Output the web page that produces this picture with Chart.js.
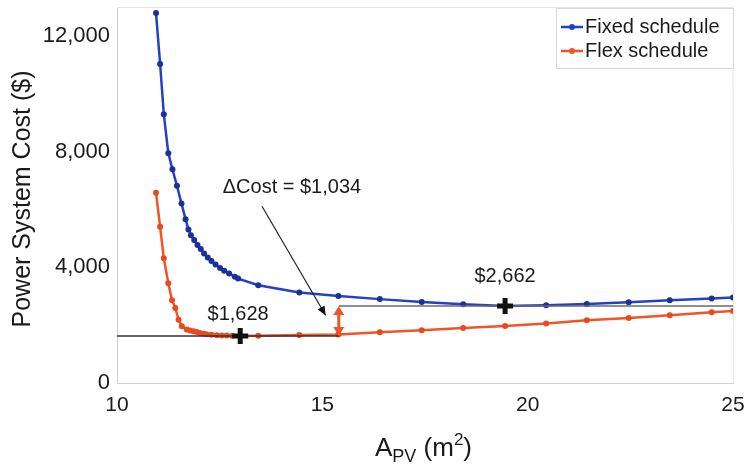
<!DOCTYPE html>
<html>
<head>
<meta charset="utf-8">
<script src="https://cdn.jsdelivr.net/npm/chart.js@4.4.0/dist/chart.umd.min.js"></script>
<style>
    html, body { margin: 0; padding: 0; background: #fff; }
    #wrap { width: 746px; height: 464px; }
</style>
</head>
<body>
<div id="wrap"><canvas id="costChart" width="746" height="464"></canvas></div>
<script>
// PV area (m²) vs. power system cost ($) for both schedules
const fixedArea = [10.95, 11.05, 11.14, 11.25, 11.35, 11.46, 11.57, 11.67, 11.74, 11.80, 11.88, 11.96, 12.04, 12.12, 12.21, 12.30, 12.40, 12.51, 12.61, 12.73, 12.87, 12.95, 13.44, 14.44, 15.39, 16.40, 17.42, 18.43, 19.45, 20.45, 21.44, 22.46, 23.46, 24.48, 25.0];
const fixedCost = [12790, 11030, 9290, 7940, 7390, 6820, 6210, 5660, 5310, 5110, 4940, 4770, 4630, 4480, 4340, 4220, 4100, 3980, 3880, 3790, 3670, 3610, 3380, 3130, 3010, 2900, 2800, 2720, 2662, 2690, 2735, 2795, 2865, 2920, 2960];

const flexArea = [10.95, 11.05, 11.14, 11.25, 11.34, 11.42, 11.50, 11.58, 11.70, 11.78, 11.86, 11.94, 12.02, 12.10, 12.18, 12.30, 12.43, 12.55, 12.67, 12.80, 13.0, 13.44, 14.44, 15.39, 16.40, 17.42, 18.43, 19.45, 20.45, 21.44, 22.46, 23.46, 24.48, 25.0];
const flexCost = [6580, 5400, 4310, 3450, 2860, 2590, 2190, 1960, 1850, 1815, 1790, 1760, 1730, 1705, 1686, 1665, 1651, 1645, 1640, 1633, 1628, 1634, 1660, 1680, 1755, 1825, 1905, 1975, 2055, 2170, 2250, 2345, 2450, 2490];

const xTicks = [10, 15, 20, 25];
const yTicks = [0, 4000, 8000, 12000];

// optimum of each schedule and the area where the saving is measured
const flexMinArea = 13.0;
const flexMinCost = 1628;
const fixedMinArea = 19.45;
const fixedMinCost = 2662;
const deltaArea = 15.4;
const deltaCost = fixedMinCost - flexMinCost;

// ΔCost label and its pointer (data coordinates)
const deltaLabelAt = [14.26, 6760];
const pointerFrom = [13.53, 6110];
const pointerTo = [15.08, 2340];
const flexLabelAt = [12.95, 2380];
const fixedLabelAt = [19.45, 3700];

const FONT = '"Liberation Sans", Arial, Helvetica, sans-serif';
Chart.defaults.font.family = FONT;

const BLUE = '#2341c2';
const ORANGE = '#f05428';

const xy = (xs, ys) => xs.map((v, i) => ({ x: v, y: ys[i] }));

function fmtMoney(v) {
    return '$' + v.toLocaleString('en-US');
}

function arrowHead(ctx, tipX, tipY, fromX, fromY, len, half) {
    const a = Math.atan2(tipY - fromY, tipX - fromX);
    ctx.beginPath();
    ctx.moveTo(tipX, tipY);
    ctx.lineTo(tipX - len * Math.cos(a) + half * Math.sin(a), tipY - len * Math.sin(a) - half * Math.cos(a));
    ctx.lineTo(tipX - len * Math.cos(a) - half * Math.sin(a), tipY - len * Math.sin(a) + half * Math.cos(a));
    ctx.closePath();
    ctx.fill();
}

const overlay = {
    id: 'overlay',
    beforeDatasetsDraw(chart) {
        const { ctx, chartArea: a } = chart;
        // faint box around the axes
        ctx.save();
        ctx.strokeStyle = '#e4e4e4';
        ctx.lineWidth = 1;
        ctx.beginPath();
        ctx.moveTo(a.left, a.top + 0.5);
        ctx.lineTo(a.right, a.top + 0.5);
        ctx.lineTo(a.right + 0.5, a.bottom);
        ctx.stroke();
        ctx.restore();
    },
    afterDatasetsDraw(chart) {
        const { ctx, scales: { x, y } } = chart;
        const px = p => [x.getPixelForValue(p[0]), y.getPixelForValue(p[1])];
        ctx.save();

        // arrowheads on the saving bar
        const ax = x.getPixelForValue(deltaArea);
        const yTop = y.getPixelForValue(fixedMinCost);
        const yBot = y.getPixelForValue(flexMinCost);
        ctx.fillStyle = ORANGE;
        arrowHead(ctx, ax, yTop, ax, yBot, 9, 5.5);
        arrowHead(ctx, ax, yBot, ax, yTop, 9, 5.5);

        // pointer from the ΔCost label
        const [fx, fy] = px(pointerFrom);
        const [tx, ty] = px(pointerTo);
        ctx.strokeStyle = '#222';
        ctx.fillStyle = '#111';
        ctx.lineWidth = 1.2;
        ctx.beginPath();
        ctx.moveTo(fx, fy);
        ctx.lineTo(tx, ty);
        ctx.stroke();
        arrowHead(ctx, tx, ty, fx, fy, 9, 4);

        // text labels
        ctx.fillStyle = '#1a1a1a';
        ctx.font = '20px ' + FONT;
        ctx.textAlign = 'center';
        ctx.textBaseline = 'middle';
        let p = px(deltaLabelAt);
        ctx.fillText('\u0394Cost = ' + fmtMoney(deltaCost), p[0], p[1]);
        p = px(flexLabelAt);
        ctx.fillText(fmtMoney(flexMinCost), p[0], p[1]);
        p = px(fixedLabelAt);
        ctx.fillText(fmtMoney(fixedMinCost), p[0], p[1]);
        ctx.restore();
    },
    afterDraw(chart) {
        const { ctx } = chart;
        ctx.save();

        // y axis title
        ctx.fillStyle = '#1a1a1a';
        ctx.font = '25px ' + FONT;
        ctx.textAlign = 'center';
        ctx.textBaseline = 'middle';
        ctx.translate(23, 199);
        ctx.rotate(-Math.PI / 2);
        ctx.fillText('Power System Cost ($)', 0, 0);
        ctx.restore();

        // x axis title: A_PV (m^2)
        ctx.save();
        ctx.fillStyle = '#1a1a1a';
        ctx.textBaseline = 'alphabetic';
        ctx.textAlign = 'left';
        let cx = 375;
        const base = 456;
        ctx.font = '26px ' + FONT;
        ctx.fillText('A', cx, base);
        cx += ctx.measureText('A').width;
        ctx.font = '18px ' + FONT;
        ctx.fillText('PV', cx, base + 6);
        cx += ctx.measureText('PV').width;
        ctx.font = '26px ' + FONT;
        ctx.fillText(' (m', cx, base);
        cx += ctx.measureText(' (m').width;
        ctx.font = '17px ' + FONT;
        ctx.fillText('2', cx, base - 11);
        cx += ctx.measureText('2').width;
        ctx.font = '26px ' + FONT;
        ctx.fillText(')', cx, base);
        ctx.restore();

        // legend box
        ctx.save();
        const lx = 556, ly = 8, lw = 177, lh = 60;
        ctx.fillStyle = '#fff';
        ctx.fillRect(lx, ly, lw, lh);
        ctx.strokeStyle = '#d8d8d8';
        ctx.lineWidth = 1;
        ctx.strokeRect(lx + 0.5, ly + 0.5, lw, lh);
        const rows = [['Fixed schedule', BLUE, 27], ['Flex schedule', ORANGE, 51]];
        rows.forEach(([label, col, ry]) => {
            ctx.strokeStyle = col;
            ctx.fillStyle = col;
            ctx.lineWidth = 2.5;
            ctx.beginPath();
            ctx.moveTo(561, ry);
            ctx.lineTo(583, ry);
            ctx.stroke();
            ctx.beginPath();
            ctx.arc(572, ry, 3, 0, Math.PI * 2);
            ctx.fill();
            ctx.fillStyle = '#1a1a1a';
            ctx.font = '20px ' + FONT;
            ctx.textAlign = 'left';
            ctx.textBaseline = 'middle';
            ctx.fillText(label, 585, ry);
        });
        ctx.restore();
    }
};

new Chart(document.getElementById('costChart'), {
    type: 'line',
    data: {
        datasets: [
            {
                label: 'Flex schedule',
                data: xy(flexArea, flexCost),
                borderColor: ORANGE,
                backgroundColor: '#e84a20',
                borderWidth: 2.5,
                pointRadius: 3,
                pointBorderWidth: 0,
                tension: 0,
                order: 6
            },
            {
                label: 'Fixed schedule',
                data: xy(fixedArea, fixedCost),
                borderColor: BLUE,
                backgroundColor: '#1c2f9e',
                borderWidth: 2.5,
                pointRadius: 3,
                pointBorderWidth: 0,
                tension: 0,
                order: 5
            },
            {
                label: 'flex optimum level',
                data: [{ x: 10, y: flexMinCost }, { x: deltaArea, y: flexMinCost }],
                borderColor: '#333',
                borderWidth: 1.5,
                pointRadius: 0,
                order: 4
            },
            {
                label: 'fixed optimum level',
                data: [{ x: deltaArea, y: fixedMinCost }, { x: 25, y: fixedMinCost }],
                borderColor: '#6a6a6a',
                borderWidth: 1.3,
                pointRadius: 0,
                order: 4
            },
            {
                label: 'saving',
                data: [{ x: deltaArea, y: flexMinCost + 150 }, { x: deltaArea, y: fixedMinCost - 150 }],
                borderColor: ORANGE,
                borderWidth: 3,
                pointRadius: 0,
                order: 3
            },
            {
                label: 'optimum',
                data: [{ x: flexMinArea, y: flexMinCost }, { x: fixedMinArea, y: fixedMinCost }],
                showLine: false,
                pointStyle: 'cross',
                pointRadius: 8,
                borderColor: '#111',
                pointBorderWidth: 5,
                order: 1
            }
        ]
    },
    options: {
        responsive: false,
        animation: false,
        layout: { autoPadding: false, padding: { top: 7, right: 13, left: 0, bottom: 0 } },
        plugins: {
            legend: { display: false },
            tooltip: { enabled: false }
        },
        scales: {
            x: {
                type: 'linear',
                min: 10,
                max: 25,
                afterBuildTicks: s => { s.ticks = xTicks.map(v => ({ value: v })); },
                afterFit: s => { s.height = 81; s.paddingLeft = 0; s.paddingRight = 0; },
                grid: { display: false, drawTicks: false },
                border: { color: '#cfcfcf' },
                ticks: { color: '#1a1a1a', font: { size: 21 }, padding: 10, maxRotation: 0 }
            },
            y: {
                type: 'linear',
                min: 0,
                max: 13000,
                afterBuildTicks: s => { s.ticks = yTicks.map(v => ({ value: v })); },
                afterFit: s => { s.width = 117; s.paddingTop = 0; s.paddingBottom = 0; },
                grid: { display: false, drawTicks: false },
                border: { color: '#cfcfcf' },
                ticks: {
                    color: '#1a1a1a',
                    font: { size: 22 },
                    padding: 7,
                    callback: v => v.toLocaleString('en-US')
                }
            }
        }
    },
    plugins: [overlay]
});
</script>
</body>
</html>
